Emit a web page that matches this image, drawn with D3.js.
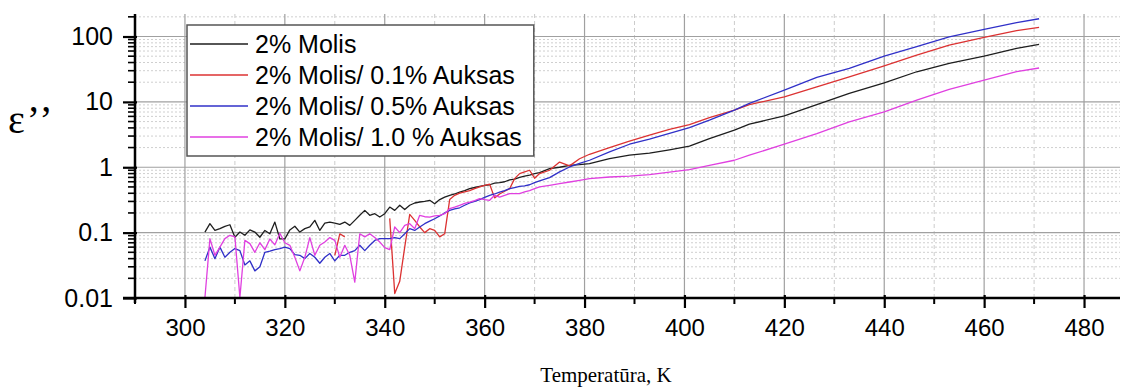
<!DOCTYPE html>
<html><head><meta charset="utf-8">
<script src="https://cdn.jsdelivr.net/npm/d3@7"></script>
<style>
html,body{margin:0;padding:0;background:#fff;}
svg{display:block;}
</style></head>
<body>
<svg id="chart" width="1124" height="387"></svg>
<script>
// ---------- data ----------
const temps = [
304,305,306,307,308,309,310,311,312,313,
314,315,316,317,318,319,320,321,322,323,
324,325,326,327,328,329,330,331,332,333,
334,335,336,337,338,339,340,341,342,343,
344,345,346,347,348,349,350,351,352,353,
354,355,356,357,358,359,360,361,362,363,
364,365,366,367,368,369,370,371,
373,375,377,379,381,385,389,393,397,401,405,410,413,420,426.5,433,440,446.5,453,460,466.5,471];

const molis = [
0.102,0.137,0.108,0.115,0.125,0.132,0.085,0.102,0.091,0.11,
0.102,0.085,0.108,0.096,0.145,0.08,0.08,0.11,0.125,0.102,
0.115,0.122,0.154,0.108,0.14,0.145,0.14,0.134,0.145,0.129,
0.154,0.184,0.219,0.184,0.195,0.173,0.195,0.246,0.219,0.262,
0.225,0.262,0.284,0.294,0.3,0.312,0.277,0.32,0.35,0.372,
0.39,0.418,0.44,0.471,0.49,0.51,0.53,0.54,0.57,0.58,
0.6,0.64,0.66,0.7,0.73,0.76,0.8,0.83,
0.95,1.0,1.07,1.1,1.14,1.36,1.53,1.64,1.85,2.1,2.75,3.7,4.56,6.1,9.1,13.5,19.6,28.9,38.8,50,66,76];

const auksas01 = [
null,null,null,null,null,null,null,null,null,null,
null,null,null,null,null,null,null,null,null,null,
null,null,null,null,null,null,0.045,0.096,0.086,null,
null,null,null,null,null,null,null,0.165,0.0117,0.018,
0.06,0.19,0.154,0.122,0.1,0.115,0.108,0.086,0.096,0.32,
0.372,0.403,0.42,0.44,0.47,0.5,0.53,0.55,0.34,0.39,
0.43,0.47,0.67,0.8,0.85,0.9,0.68,0.8,
0.9,1.2,1.05,1.35,1.58,2.0,2.5,3.1,3.8,4.5,5.76,7.5,9.1,11.9,17,24.2,35.7,52,74,97,123,138];

const auksas05 = [
0.037,0.06,0.04,0.06,0.042,0.05,0.057,0.053,0.032,0.037,
0.026,0.03,0.05,0.052,0.055,0.057,0.06,0.057,0.046,0.045,
0.04,0.048,0.042,0.034,0.042,0.048,0.037,0.045,0.045,0.05,
0.053,0.064,0.053,0.064,0.076,0.081,0.081,0.081,0.084,0.081,
0.096,0.115,0.108,0.122,0.137,0.15,0.163,0.18,0.2,0.219,
0.23,0.24,0.262,0.284,0.3,0.32,0.345,0.372,0.39,0.418,
0.44,0.47,0.49,0.51,0.52,0.54,0.58,0.62,
0.695,0.85,1.01,1.15,1.28,1.72,2.25,2.7,3.3,4.05,5.25,7.5,9.46,15.1,23.7,32.6,50,70,99,129,163,187];

const auksas10 = [
0.0102,0.081,0.045,0.06,0.081,0.091,0.086,0.0102,0.076,0.068,
0.05,0.07,0.055,0.08,0.065,0.098,0.07,0.064,0.042,0.026,
0.042,0.084,0.045,0.064,0.072,0.084,0.076,0.042,0.064,0.045,
0.0175,0.096,0.086,0.096,0.084,0.072,0.059,0.055,0.122,0.1,
0.129,0.137,0.115,0.184,0.175,0.173,0.18,0.184,0.195,0.232,
0.245,0.262,0.28,0.294,0.31,0.33,0.32,0.312,0.372,0.35,
0.37,0.395,0.395,0.395,0.42,0.44,0.47,0.5,
0.53,0.56,0.595,0.63,0.67,0.71,0.73,0.77,0.84,0.92,1.07,1.28,1.53,2.25,3.28,4.95,7.05,10.6,15.5,21.5,29,33];

const seriesNames = ["2% Molis","2% Molis/ 0.1% Auksas","2% Molis/ 0.5% Auksas","2% Molis/ 1.0 % Auksas"];
const seriesColors = ["#1e1e1e","#dc3232","#3030c8","#e040e0"];
const xTickValues = [300,320,340,360,380,400,420,440,460,480];
const yTickValues = [0.01,0.1,1,10,100];
const yTickLabels = ["0.01","0.1","1","10","100"];
const xTitle = "Temperatūra, K";
const yTitle = "ε’’";

// ---------- layout ----------
const L = 135, R = 1120, T = 14, B = 298;
const svg = d3.select("#chart");
const x = d3.scaleLinear().domain([290, 487.2]).range([L, R]);
const y = d3.scaleLog().domain([0.01, 221]).range([B, T]);

// grid
const g = svg.append("g");
const xMinor = d3.range(310, 488, 20);
const yMinor = [];
[0.01,0.1,1,10,100].forEach(d => { for (let k = 2; k <= 9; k++) { const v = d*k; if (v <= 221) yMinor.push(v); } });

g.selectAll(".ymin").data(yMinor).join("line")
  .attr("x1", L).attr("x2", R).attr("y1", d => y(d)).attr("y2", d => y(d))
  .attr("stroke", "#cfcfcf").attr("stroke-width", 1).attr("stroke-dasharray", "2,2");
g.selectAll(".xmin").data(xMinor).join("line")
  .attr("x1", d => x(d)).attr("x2", d => x(d)).attr("y1", T).attr("y2", B)
  .attr("stroke", "#cccccc").attr("stroke-width", 1).attr("stroke-dasharray", "4,3");
g.selectAll(".ymaj").data(yTickValues).join("line")
  .attr("x1", L).attr("x2", R).attr("y1", d => y(d)).attr("y2", d => y(d))
  .attr("stroke", "#a0a0a0").attr("stroke-width", 1.2);
g.selectAll(".xmaj").data(xTickValues).join("line")
  .attr("x1", d => x(d)).attr("x2", d => x(d)).attr("y1", T).attr("y2", B)
  .attr("stroke", "#a0a0a0").attr("stroke-width", 1.2);

// lines
svg.append("clipPath").attr("id", "clip").append("rect")
  .attr("x", L).attr("y", T - 2).attr("width", R - L).attr("height", B - T + 3);
const allSeries = [molis, auksas01, auksas05, auksas10];
const line = d3.line()
  .defined(d => d[1] != null)
  .x(d => x(d[0])).y(d => y(Math.max(d[1], 0.0101)));
const lg = svg.append("g").attr("clip-path", "url(#clip)");
allSeries.forEach((s, i) => {
  lg.append("path")
    .datum(temps.map((t, j) => [t, s[j]]))
    .attr("d", line)
    .attr("fill", "none")
    .attr("stroke", seriesColors[i])
    .attr("stroke-width", 1.3)
    .attr("stroke-linejoin", "round");
});

// axes
const xAxis = d3.axisBottom(x).tickValues(xTickValues).tickSize(10).tickSizeOuter(0).tickPadding(11);
const xg = svg.append("g").attr("transform", `translate(0,${B})`).call(xAxis);
xg.select(".domain").attr("stroke", "#000").attr("stroke-width", 2.5).attr("d", `M${L-12},0H${R}`);
xg.selectAll(".tick line").attr("stroke", "#000").attr("stroke-width", 2.2).attr("y1", -3);
xg.selectAll(".tick text").attr("font-family", "Arial, 'Liberation Sans', sans-serif").attr("font-size", 24).attr("fill", "#000");
// x minor ticks
xg.selectAll(".xmt").data(d3.range(290, 488, 20)).join("line")
  .attr("x1", d => x(d)).attr("x2", d => x(d)).attr("y1", 0).attr("y2", 6)
  .attr("stroke", "#000").attr("stroke-width", 2);

const yAxis = d3.axisLeft(y).tickValues(yTickValues).tickFormat((d, i) => yTickLabels[i]).tickSize(12).tickSizeOuter(0).tickPadding(10);
const yg = svg.append("g").attr("transform", `translate(${L},0)`).call(yAxis);
yg.select(".domain").attr("stroke", "#000").attr("stroke-width", 2.5).attr("d", `M0,${T}V${B+5}`);
yg.selectAll(".tick line").attr("stroke", "#000").attr("stroke-width", 2.2).attr("x2", -12).attr("x1", 2);
yg.selectAll(".tick text").attr("font-family", "Arial, 'Liberation Sans', sans-serif").attr("font-size", 25).attr("fill", "#000");
yg.selectAll(".ymt").data(yMinor).join("line")
  .attr("x1", -7).attr("x2", 0).attr("y1", d => y(d)).attr("y2", d => y(d))
  .attr("stroke", "#000").attr("stroke-width", 1.6);

// titles
svg.append("text").attr("x", 606).attr("y", 382).attr("text-anchor", "middle")
  .attr("font-family", "'Liberation Serif', 'Times New Roman', serif").attr("font-size", 21).attr("fill", "#000")
  .text(xTitle);
svg.append("text").attr("x", 8).attr("y", 133)
  .attr("font-family", "'Liberation Serif', 'Times New Roman', serif").attr("font-size", 40)
  .attr("letter-spacing", 2).attr("fill", "#000")
  .text(yTitle);

// legend
const leg = svg.append("g");
const legX = 187, legY = 25, rowH = 31;
const box = leg.append("rect").attr("x", legX).attr("y", legY).attr("height", 131)
  .attr("fill", "#fff").attr("stroke", "#555").attr("stroke-width", 1.5);
let maxW = 0;
seriesNames.forEach((n, i) => {
  const cy = legY + 19 + i * rowH;
  leg.append("line").attr("x1", legX + 3).attr("x2", legX + 61).attr("y1", cy).attr("y2", cy)
    .attr("stroke", seriesColors[i]).attr("stroke-width", 1.3);
  const t = leg.append("text").attr("x", legX + 68).attr("y", cy + 9)
    .attr("font-family", "Arial, 'Liberation Sans', sans-serif").attr("font-size", 25).attr("fill", "#000")
    .text(n);
  maxW = Math.max(maxW, t.node().getComputedTextLength());
});
box.attr("width", 68 + maxW + 12);
</script>
</body></html>
